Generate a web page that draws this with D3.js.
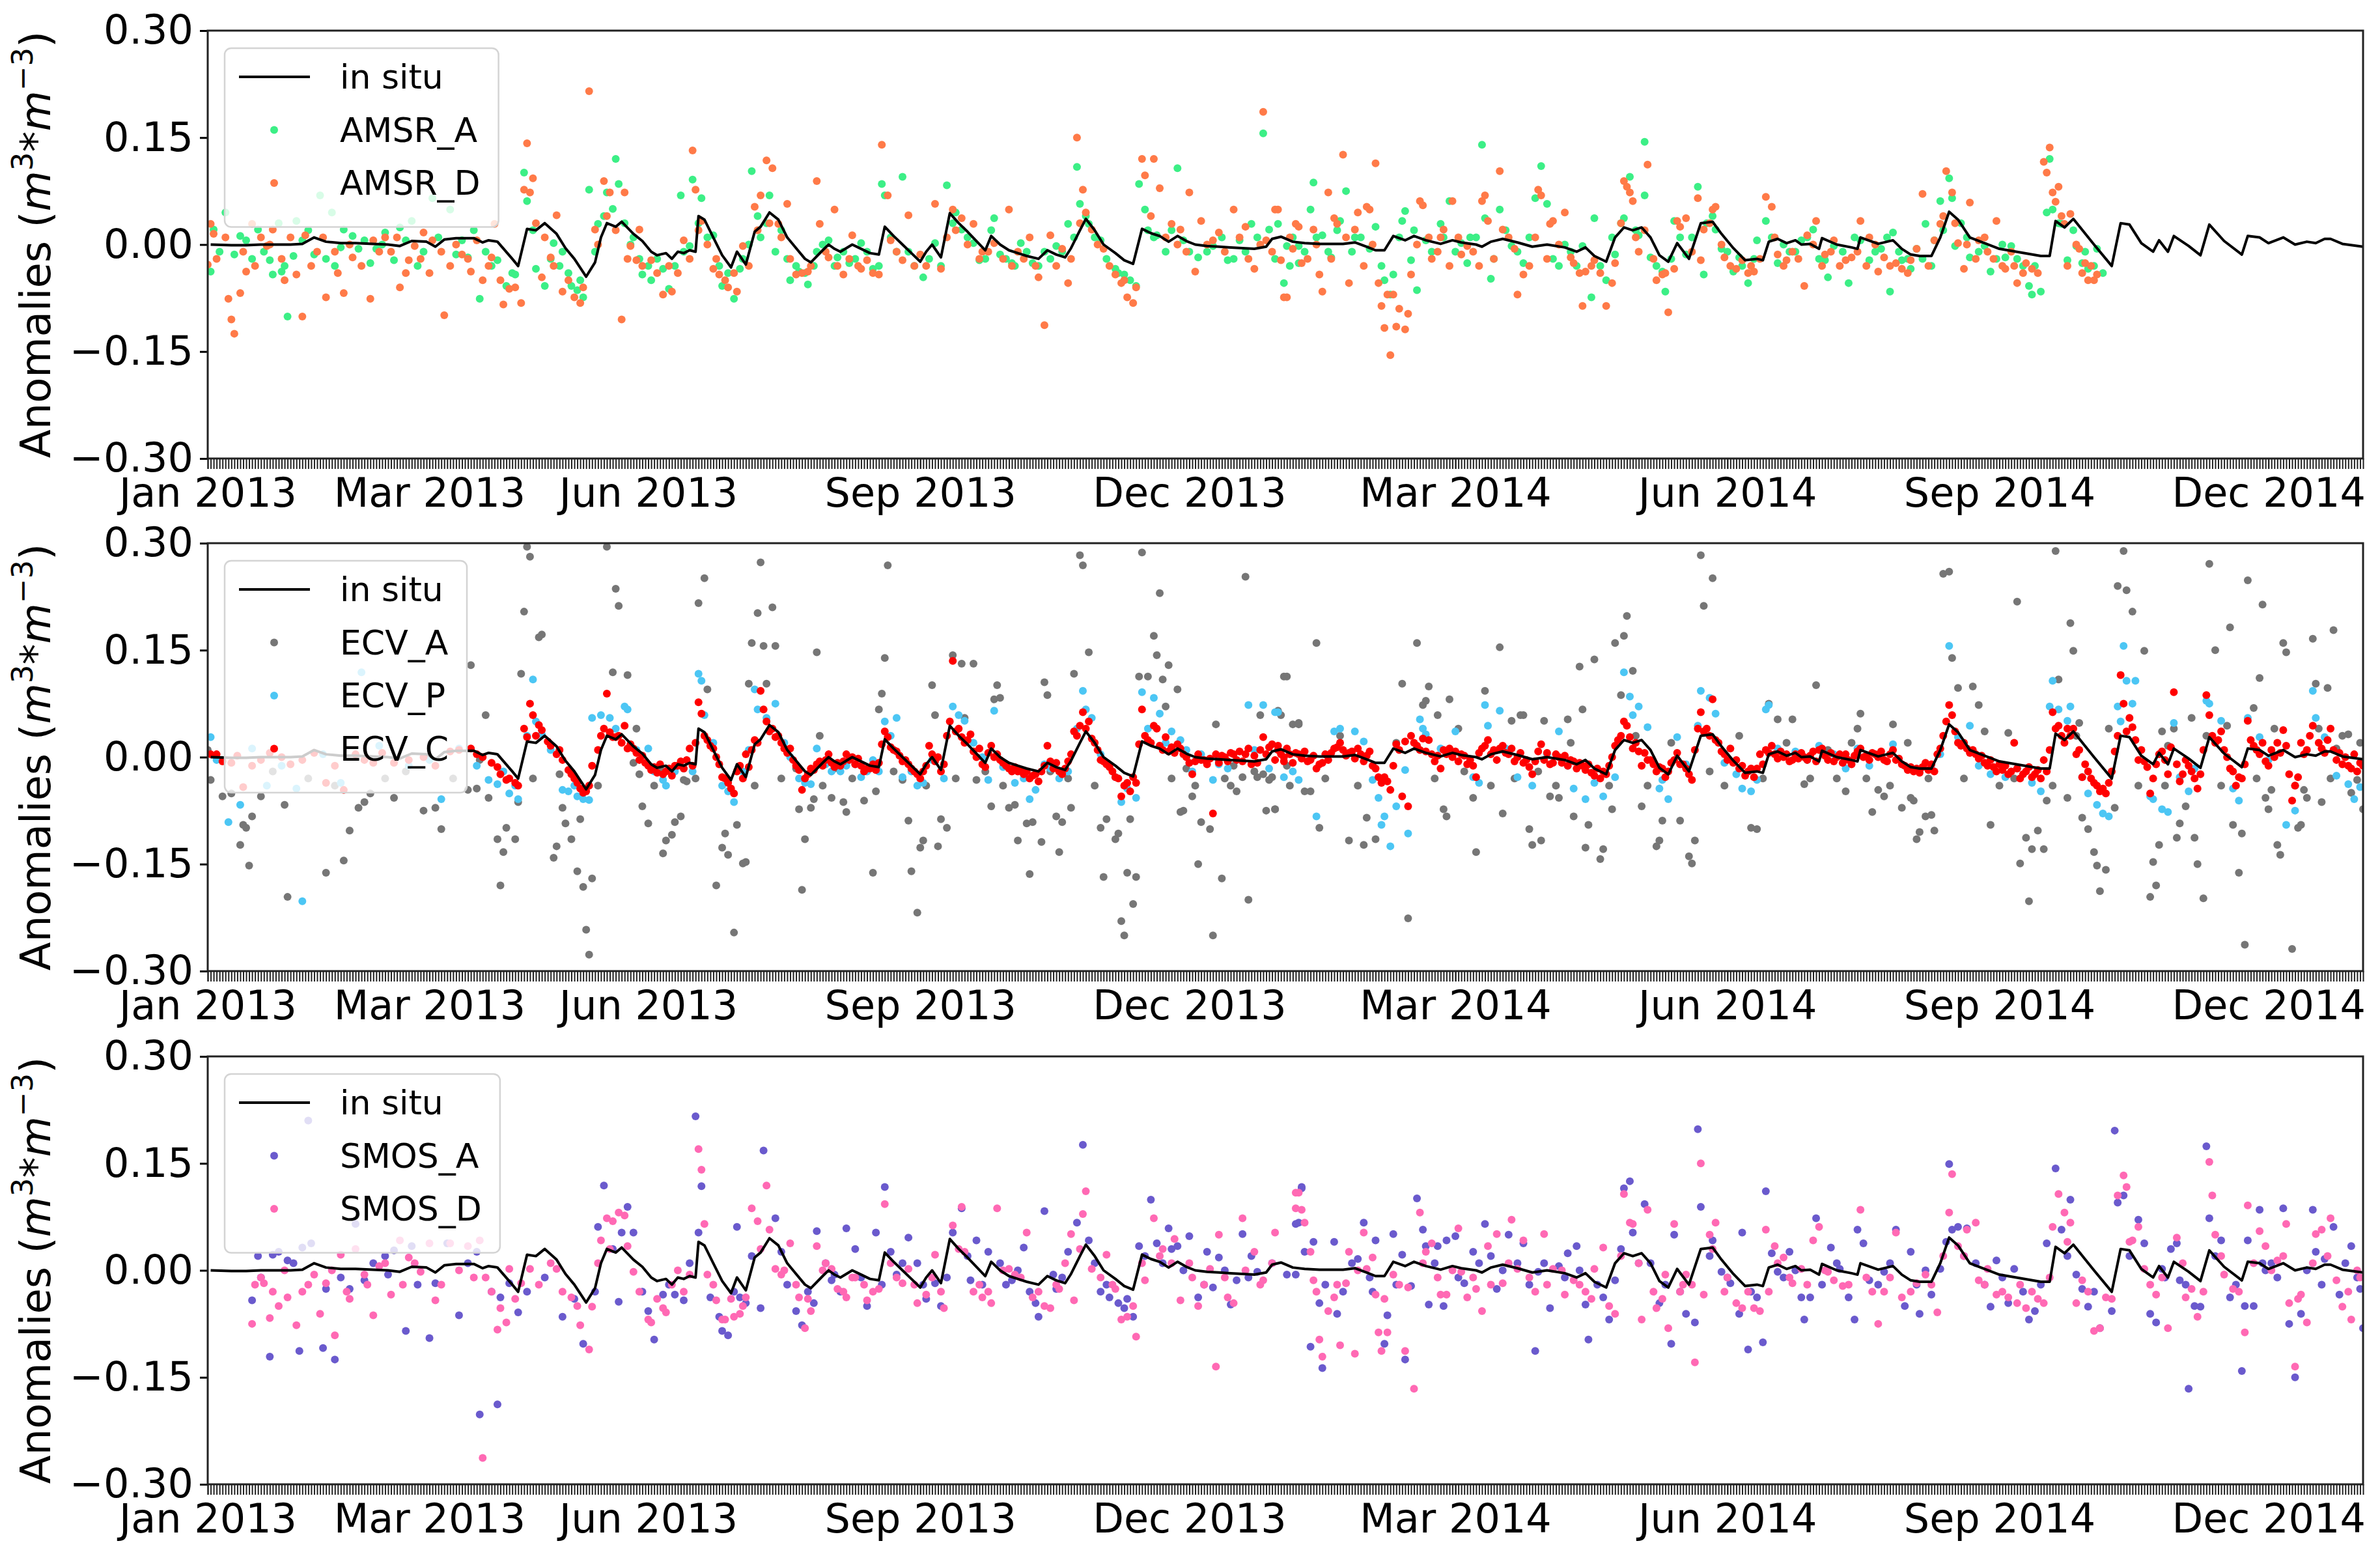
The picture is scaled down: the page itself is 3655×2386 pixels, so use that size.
<!DOCTYPE html>
<html><head><meta charset="utf-8">
<script src="https://cdn.jsdelivr.net/npm/d3@7"></script>
<style>body{margin:0;background:#fff}svg text{font-family:"DejaVu Sans",sans-serif;fill:#000}</style>
</head><body>
<svg id="c" width="3655" height="2386"></svg>
<script>
// ---------------- DATA (day offset from 2013-01-01, anomaly m3/m3) ----------------
const insitu=[[3,0],[10,-0.001],[15,-0.001],[20,0],[25,0],[30,0],[34,0.001],[38,0.010],[42,0.004],[47,0.002],[52,0.002],[58,0.001],[63,0],[67,-0.002],[71,0.005],[76,0.004],[79,-0.003],[82,0.007],[86,0.009],[92,0.009],[95,0.003],[97,0.006],[100,0.004],[105,-0.020],[107,-0.030],[110,0.022],[113,0.020],[116,0.030],[120,0.015],[123,-0.005],[126,-0.020],[130,-0.045],[133,-0.025],[135,0.010],[137,0.030],[140,0.025],[142,0.032],[146,0.015],[149,0.005],[152,-0.010],[154,-0.015],[157,-0.012],[159,-0.020],[161,-0.010],[163,-0.012],[165,-0.008],[167,-0.010],[168,0.040],[170,0.035],[173,0.010],[176,-0.015],[179,-0.032],[181,-0.010],[184,-0.028],[187,0.018],[189,0.025],[192,0.045],[195,0.035],[198,0.010],[201,-0.005],[204,-0.020],[206,-0.025],[210,-0.008],[212,0],[214,-0.006],[216,-0.010],[220,0],[222,-0.004],[226,-0.012],[229,-0.014],[231,0.025],[234,0.012],[237,0],[240,-0.012],[243,-0.024],[245,-0.010],[247,0],[250,-0.018],[253,0.044],[256,0.030],[259,0.018],[262,0.005],[265,-0.008],[267,0.012],[270,0],[273,-0.008],[276,-0.012],[279,-0.016],[283,-0.020],[286,-0.008],[289,-0.014],[292,-0.018],[294,-0.005],[297,0.020],[299,0.036],[302,0.020],[305,0],[309,-0.012],[312,-0.022],[315,-0.027],[318,0.022],[321,0.016],[324,0.012],[327,0.004],[330,0.012],[333,0.005],[336,0],[340,-0.002],[344,-0.003],[348,-0.004],[352,-0.005],[356,-0.006],[360,-0.003],[362,0.008],[365,0.011],[369,0.004],[373,0.002],[378,0.001],[386,0.001],[390,0.003],[394,-0.003],[397,-0.008],[400,-0.008],[403,0.012],[407,0.006],[410,0.012],[414,0.006],[419,0.001],[423,0.006],[426,0.003],[431,0],[433,-0.003],[436,0.004],[440,0.008],[445,0.003],[450,-0.003],[455,0],[461,-0.004],[465,-0.010],[468,-0.004],[471,-0.016],[475,-0.024],[478,0.010],[481,0.024],[484,0.020],[487,0.024],[490,0.010],[493,-0.015],[496,-0.024],[499,0.002],[503,-0.020],[507,0.030],[511,0.032],[514,0.015],[518,-0.005],[522,-0.022],[526,-0.020],[528,-0.022],[530,0.004],[533,0.008],[536,0.002],[539,0.006],[541,0],[544,0.001],[547,-0.006],[548,0.009],[553,0],[558,-0.004],[560,-0.006],[561,0.010],[567,0.001],[572,0.006],[575,-0.006],[578,-0.014],[581,-0.016],[585,-0.016],[588,0.010],[591,0.046],[594,0.035],[598,0.010],[603,0.002],[608,-0.006],[615,-0.011],[622,-0.016],[625,-0.016],[627,0.033],[630,0.024],[633,0.036],[640,0],[646,-0.030],[649,0.030],[652,0.028],[656,0.002],[660,-0.010],[662,0.006],[665,-0.010],[667,0.012],[672,-0.002],[676,-0.015],[679,0.028],[684,0.005],[690,-0.014],[692,0.012],[696,0.010],[699,0.002],[704,0.010],[708,0],[712,0.004],[715,0.002],[718,0.008],[720,0.008],[724,0.001],[731,-0.003]];

const amsrA=[[4,0.021],[8,0.045],[11,-0.014],[3,-0.038],[15,0.006],[19,0.021],[21,-0.010],[23,-0.022],[24,-0.042],[27,-0.038],[28,-0.030],[29,-0.101],[32,0.033],[34,0.006],[38,-0.014],[40,0.069],[44,0.045],[45,-0.030],[48,0.021],[53,-0.006],[55,0.006],[59,-0.006],[62,0.017],[65,-0.022],[69,0.006],[71,0.033],[75,-0.010],[78,0.065],[84,0.049],[88,0.006],[90,-0.018],[94,-0.076],[96,-0.010],[100,-0.022],[103,-0.058],[106,-0.042],[109,0.101],[110,0.061],[113,-0.034],[116,-0.058],[119,0.002],[122,-0.010],[125,-0.058],[127,-0.064],[129,-0.074],[131,0.077],[134,0.029],[137,0.073],[140,0.120],[141,0.085],[146,0.010],[149,-0.042],[152,-0.050],[156,-0.034],[158,-0.062],[162,0.069],[165,-0.002],[166,0.091],[169,0.065],[173,0.013],[176,-0.058],[180,-0.076],[182,-0.034],[186,0.103],[189,0.010],[192,0.069],[194,-0.010],[199,-0.050],[202,-0.038],[205,-0.056],[208,-0.010],[212,0.006],[215,-0.018],[219,-0.026],[223,0.002],[227,-0.034],[230,0.085],[231,0.069],[237,0.095],[239,-0.010],[244,-0.046],[248,0.002],[252,0.083],[255,0.045],[257,0.021],[261,0.002],[263,-0.022],[268,0.037],[270,-0.014],[274,-0.026],[277,0.002],[281,-0.026],[285,-0.010],[289,-0.002],[293,0.029],[296,0.109],[297,0.057],[300,0.029],[304,0.006],[309,-0.034],[312,-0.042],[316,-0.058],[317,0.085],[319,0.049],[323,0.013],[326,-0.010],[330,0.107],[332,0.006],[337,-0.018],[342,-0.002],[347,-0.022],[351,0.006],[355,0.029],[359,0.156],[361,0.021],[366,-0.054],[368,-0.030],[371,-0.002],
[364,0.029],[367,-0.002],[371,-0.026],[375,0.049],[376,0.087],[379,0.013],[382,-0.018],[385,0.033],[387,0.075],[390,0.010],[395,-0.006],[397,0.025],[400,-0.050],[402,-0.070],[403,-0.042],[406,0.033],[407,0.047],[409,-0.022],[411,-0.064],[414,0.006],[419,0.029],[422,0.061],[426,0.002],[428,-0.026],[431,0.010],[433,0.140],[434,0.037],[436,-0.048],[439,0.049],[443,-0.002],[447,-0.026],[451,0.065],[453,0.110],[455,0.057],[459,-0.030],[463,-0.010],[467,-0.002],[470,-0.074],[471,0.037],[475,-0.050],[478,-0.014],[481,0.037],[483,0.095],[486,0.013],[488,0.144],[488,0.069],[490,-0.018],[494,-0.038],[495,-0.066],[498,0.033],[500,0.010],[502,-0.014],[506,0.081],[508,-0.042],[512,0.021],[514,-0.006],[518,-0.038],[520,-0.018],[523,-0.054],[526,0.006],[529,0.033],[533,-0.026],[537,-0.010],[541,0.006],[545,0.021],[549,-0.022],[550,-0.046],[552,-0.002],[557,-0.054],[561,0.006],[564,-0.022],[568,-0.006],[571,-0.066],[572,0.017],[575,-0.022],[578,-0.034],[580,-0.006],[583,0.029],[586,0.006],[588,0.061],[591,0.093],[592,0.065],[593,-0.002],[598,-0.018],[603,-0.002],[605,-0.038],[610,-0.018],[612,-0.002],[616,-0.030],[618,-0.058],[619,-0.070],[622,-0.066],[624,0.045],[625,0.120],[626,0.049],[629,0.029],[631,-0.022],[634,-0.002],[636,-0.026],[638,-0.034],[641,-0.006]];
const amsrA2=[[6,-0.010],[13,0.012],[17,-0.020],[26,0.030],[31,-0.016],[36,0.020],[42,-0.020],[47,-0.004],[51,0.012],[57,-0.026],[61,0],[67,0.024],[73,-0.030],[80,0.010],[86,-0.014],[92,0.020],[98,-0.030],[105,-0.040],[112,0.020],[118,-0.020],[121,-0.030],[124,-0.040],[128,-0.050],[133,-0.010],[136,0.040],[139,0.050],[143,0.030],[145,0],[148,-0.020],[151,-0.030],[154,-0.020],[160,-0.030],[163,-0.010],[168,0.030],[171,0.010],[175,-0.030],[178,-0.040],[183,-0.020],[185,0],[188,0.040],[191,0.030],[196,0.020],[198,-0.020],[201,-0.030],[204,-0.040],[207,-0.030],[210,0],[214,-0.030],[217,-0.010],[221,-0.020],[225,-0.010],[229,-0.030],[233,0.010],[235,-0.010],[241,-0.030],[246,-0.020],[250,-0.030],[254,0.030],[259,0.010],[265,-0.020],[267,0.020],[272,-0.020],[275,-0.030],[279,-0.010],[283,-0.030],[287,-0.020],[291,-0.010],[295,0.010],[299,0.040],[302,0.010],[306,-0.020],[310,-0.040],[314,-0.050],[320,0.020],[322,0.010],[328,0.020],[334,-0.010],[340,-0.010],[345,0.010],[349,-0.020],[353,-0.010],[357,0.010],[363,-0.020],[369,0.010],[373,-0.010],[377,0.010],[381,-0.010],[384,0.020],[389,-0.010],[392,0.010],[399,-0.030],[405,0.010],[410,0.020],[416,-0.010],[420,0.010],[424,-0.010],[429,0.010],[437,-0.020],[441,0.020],[445,-0.010],[449,0.010],[457,-0.020],[461,0],[465,-0.030],[473,-0.030],[477,0.010],[480,0.030],[485,0.020],[492,-0.030],[497,-0.020],[504,0.010],[509,0.030],[511,0.040],[516,-0.010],[521,-0.030],[525,-0.020],[531,0.010],[535,0],[539,-0.010],[543,0.010],[547,-0.020],[555,-0.010],[559,0.010],[566,-0.010],[570,0.010],[574,-0.010],[577,-0.020],[582,-0.020],[585,-0.030],[589,0.020],[595,0.030],[597,0.010],[601,-0.010],[607,-0.020],[609,0],[614,-0.020],[620,-0.030],[628,0.030],[633,0.020],[637,-0.010],[640,-0.030],[643,-0.040]];

const amsrD=[[2,-0.028],[3,0.029],[4,0.015],[10,-0.105],[9,-0.076],[11,-0.125],[13,-0.068],[15,-0.038],[17,0.029],[20,0.010],[22,-0.002],[24,0.021],[28,-0.050],[32,-0.042],[34,-0.101],[35,0.013],[39,-0.010],[42,-0.074],[45,-0.010],[48,-0.068],[51,-0.018],[57,-0.076],[58,0.006],[62,0.010],[64,-0.010],[67,-0.060],[70,-0.022],[72,-0.002],[75,0.017],[78,0.006],[82,-0.099],[84,-0.030],[88,-0.014],[91,-0.038],[93,0.006],[95,-0.050],[98,-0.018],[99,0.029],[102,-0.084],[104,-0.062],[108,-0.082],[109,0.077],[110,0.142],[112,0.093],[111,0.073],[115,-0.046],[118,-0.018],[120,0.041],[122,-0.066],[126,-0.074],[128,-0.082],[131,0.215],[133,0.021],[136,0.089],[138,0.073],[142,-0.105],[143,0.073],[145,-0.002],[147,-0.022],[148,0.021],[152,-0.022],[156,-0.070],[159,-0.066],[163,0.006],[166,0.132],[167,0.077],[169,0.033],[173,-0.034],[175,-0.042],[177,-0.050],[181,-0.066],[183,-0.002],[187,0.053],[189,0.069],[191,0.118],[193,0.107],[195,0.029],[198,0.057],[201,-0.042],[205,-0.038],[208,0.089],[209,0.029],[212,-0.018],[214,0.049],[217,-0.042],[220,0.013],[223,-0.034],[225,-0.022],[229,-0.042],[230,0.140],[232,0.069],[233,0.006],[237,-0.022],[239,0.041],[243,-0.014],[248,0.057],[250,-0.034],[254,0.049],[257,0.037],[261,0.029],[264,-0.010],[268,0.002],[273,0.049],[276,-0.010],[280,0.010],[283,-0.046],[285,-0.113],[287,0.013],[291,-0.006],[293,-0.054],[296,0.150],[298,0.077],[299,0.045],[301,0.021],[305,-0.006],[309,-0.042],[311,-0.054],[313,-0.074],[315,-0.082],[318,0.120],[319,0.097],[322,0.120],[324,0.079],[328,0.029],[331,0.021],[334,0.073],[336,-0.038],[338,0.033],[342,0.006],[344,0.017],[349,0.049],[353,0.025],[356,-0.034],[359,0.186],[360,0.006],[363,0.049],[367,-0.074],[371,0.025],
[364,0.049],[365,-0.022],[366,-0.074],[369,-0.006],[370,0.029],[372,-0.026],[376,0.021],[378,-0.042],[379,-0.066],[381,0.073],[383,0.037],[384,0.029],[386,0.126],[388,-0.054],[390,0.021],[391,0.045],[394,0.053],[395,0.049],[397,0.114],[398,-0.054],[399,-0.086],[400,-0.117],[402,-0.155],[403,-0.070],[404,-0.115],[407,-0.119],[408,-0.097],[409,-0.042],[412,0.061],[413,0.055],[415,0.010],[418,-0.010],[420,0.021],[423,0.061],[426,-0.014],[428,-0.002],[432,-0.030],[433,0.061],[434,0.069],[435,0.033],[439,0.103],[440,0.021],[444,-0.006],[445,-0.070],[447,-0.042],[452,0.077],[453,0.069],[456,0.029],[457,0.033],[461,0.045],[463,-0.018],[464,-0.026],[467,-0.086],[468,-0.038],[471,-0.022],[475,-0.086],[477,-0.054],[478,-0.026],[481,0.089],[482,0.081],[483,0.073],[484,0.061],[486,-0.010],[489,0.112],[492,-0.050],[494,-0.042],[496,-0.095],[498,-0.034],[499,0.033],[500,0.025],[502,0.037],[506,0.065],[507,-0.022],[508,0.021],[511,0.049],[512,0.053],[515,-0.018],[519,-0.034],[521,-0.022],[524,-0.030],[525,-0.038],[529,0.067],[531,0.053],[533,-0.014],[536,-0.022],[538,-0.010],[542,-0.058],[543,0.013],[546,0.033],[549,-0.014],[552,0.006],[556,-0.022],[558,-0.018],[561,0.033],[564,0.010],[567,-0.038],[569,-0.018],[573,-0.026],[575,-0.034],[578,-0.022],[580,-0.006],[582,0.071],[586,0.006],[588,0.029],[590,0.103],[592,0.073],[594,0.002],[596,-0.034],[598,0.059],[601,0.006],[604,-0.010],[607,0.033],[610,-0.034],[613,-0.030],[614,-0.054],[617,-0.026],[619,-0.034],[623,0.116],[624,0.101],[625,0.136],[626,0.073],[628,0.081],[630,0.029],[631,-0.030],[632,0.043],[635,-0.006],[637,-0.026],[638,-0.050],[641,-0.042]];
const amsrD2=[[5,-0.020],[8,0.010],[14,-0.010],[18,-0.030],[23,0],[27,-0.020],[30,0.010],[37,-0.030],[41,0.010],[46,-0.040],[50,0],[54,-0.030],[60,-0.010],[66,0.010],[69,-0.040],[74,-0.020],[77,-0.040],[81,-0.010],[86,0],[90,-0.020],[97,-0.030],[101,-0.050],[106,-0.060],[113,0.030],[116,0.010],[119,-0.030],[124,-0.050],[129,-0.060],[134,0],[137,0.040],[140,0.020],[144,-0.020],[149,-0.030],[154,-0.040],[158,-0.030],[161,-0.040],[165,-0.020],[168,0.020],[171,0],[174,-0.020],[178,-0.060],[180,-0.040],[185,-0.030],[188,0.020],[192,0.030],[196,0.010],[199,-0.020],[203,-0.040],[206,-0.030],[211,-0.010],[215,-0.030],[219,-0.020],[222,-0.030],[227,-0.040],[235,-0.010],[241,-0.030],[245,-0.030],[252,0.010],[255,0.020],[259,0],[263,-0.020],[266,-0.010],[271,-0.020],[274,-0.030],[278,-0.020],[282,-0.030],[289,-0.030],[294,-0.020],[297,0.030],[303,0],[307,-0.030],[312,-0.050],[316,-0.060],[321,0.040],[326,0.010],[330,0],[333,-0.010],[340,0],[346,-0.010],[351,0.010],[354,-0.020],[358,0],[362,-0.010],[368,0.010],[374,-0.020],[377,0],[382,-0.020],[387,0.010],[393,-0.030],[396,0],[401,-0.070],[405,-0.090],[411,0],[416,-0.020],[419,0.010],[422,-0.030],[425,0.010],[430,-0.010],[437,-0.020],[442,0.010],[449,-0.030],[451,0.010],[455,-0.020],[459,0],[466,-0.040],[470,-0.030],[473,-0.040],[480,0.030],[485,0.010],[488,0.020],[491,-0.020],[495,-0.040],[504,-0.010],[510,0.030],[514,0],[517,-0.030],[523,-0.040],[527,-0.020],[532,0.010],[535,-0.030],[540,-0.020],[545,0],[548,-0.030],[551,-0.010],[554,-0.030],[560,-0.010],[563,-0.030],[566,0],[571,-0.030],[577,-0.040],[584,-0.030],[589,0.040],[593,0.030],[597,0],[600,-0.020],[603,0.010],[606,-0.020],[609,-0.030],[612,-0.010],[616,-0.040],[621,-0.040],[627,0.060],[629,0.040],[634,0],[636,-0.040],[639,-0.030],[640,-0.050]];

const ecvA=[[110,0.295],[111,0.281],[137,0.295],[109,0.204],[114,0.168],[115,0.172],[140,0.236],[141,0.212],[170,0.251],[168,0.216],[189,0.273],[188,0.202],[193,0.210],[186,0.160],[190,0.156],[194,0.156],[208,0.147],[232,0.269],[231,0.139],[254,0.143],[257,0.131],[261,0.131],[297,0.283],[298,0.269],[318,0.287],[324,0.230],[322,0.170],[323,0.143],[327,0.129],[353,0.253],[300,0.147],[91,0.129],[108,0.117],[139,0.119],[144,0.115],[171,0.095],[185,0.103],[191,0.103],[247,0.101],[269,0.101],[285,0.105],[295,0.117],[317,0.113],[320,0.113],[325,0.109],[330,0.095],[366,0.113],[230,0.089],[268,0.081],[270,0.083],[286,0.087],[229,0.067],[248,0.059],[258,0.055],[326,0.071],[358,0.059],[365,0.059],[343,0.046],[371,0.048],[96,0.059],[147,0.040],[209,0.030],[344,-0.004],[352,-0.028],[359,-0.024],[367,-0.012],[361,-0.032],
[3,-0.032],[7,-0.055],[10,-0.051],[14,-0.095],[15,-0.099],[13,-0.123],[16,-0.152],[17,-0.083],[20,-0.055],[28,-0.067],[29,-0.196],[42,-0.162],[48,-0.145],[50,-0.103],[57,-0.051],[55,-0.063],[53,-0.071],[65,-0.057],[75,-0.075],[79,-0.071],[81,-0.101],[90,-0.046],[93,-0.044],[97,-0.057],[101,-0.180],[100,-0.115],[103,-0.099],[102,-0.133],[106,-0.115],[107,-0.063],[119,-0.141],[120,-0.125],[122,-0.071],[123,-0.093],[125,-0.115],[127,-0.160],[128,-0.087],[130,-0.242],[131,-0.277],[132,-0.170],[129,-0.182],[149,-0.069],[151,-0.093],[156,-0.135],[157,-0.117],[159,-0.109],[160,-0.091],[162,-0.083],[164,-0.034],[174,-0.180],[176,-0.127],[177,-0.107],[178,-0.137],[180,-0.246],[181,-0.095],[183,-0.149],[184,-0.147],[203,-0.186],[202,-0.073],[204,-0.115],[206,-0.071],[207,-0.059],[213,-0.057],[218,-0.077],[217,-0.063],[224,-0.061],[227,-0.162],[228,-0.048],[239,-0.089],[240,-0.160],[242,-0.218],[243,-0.127],[244,-0.117],[249,-0.125],[250,-0.087],[252,-0.099],[267,-0.069],[273,-0.071],[275,-0.067],[276,-0.117],[279,-0.093],[280,-0.164],[281,-0.091],[284,-0.119],[290,-0.133],[289,-0.083],[291,-0.091],[294,-0.071],[304,-0.099],[305,-0.168],[306,-0.087],[310,-0.107],[311,-0.230],[312,-0.250],[313,-0.162],[315,-0.206],[316,-0.168],[314,-0.087],[309,-0.115],[331,-0.077],[332,-0.075],[335,-0.055],[337,-0.150],[338,-0.091],[341,-0.101],[342,-0.250],[345,-0.170],[348,-0.040],[350,-0.048],[354,-0.200],[360,-0.075],[363,-0.073],
[94,-0.004],[121,-0.024],[146,-0.008],[148,-0.024],[155,-0.016],[163,-0.032],[201,-0.016],[214,-0.016],[237,-0.032],[262,-0.032],[278,-0.024],[333,-0.016],[349,-0.012],[357,-0.028],[362,-0.028],
[367,0.113],[364,0.065],[369,0.046],[371,0.046],[377,0.160],[363,-0.073],[373,-0.048],[375,-0.048],[378,-0.099],[388,-0.117],[393,-0.123],[394,-0.085],[397,-0.115],[406,0.103],[408,-0.226],[411,0.160],[413,0.073],[414,0.079],[415,0.099],[418,0.059],[420,-0.073],[421,-0.083],[422,0.081],[425,0.040],[431,-0.133],[430,-0.057],[434,0.093],[439,0.154],[440,-0.079],[443,0.051],[446,0.059],[447,0.059],[449,-0.101],[450,-0.123],[453,-0.117],[454,0.051],[456,-0.055],[459,-0.057],[462,0.053],[464,-0.083],[466,0.127],[467,0.067],[468,-0.127],[469,-0.095],[471,0.137],[474,-0.129],[473,-0.143],[477,-0.073],[478,0.160],[481,0.170],[482,0.198],[484,0.121],[480,0.087],[487,-0.069],[492,-0.125],[493,-0.117],[494,-0.089],[500,-0.089],[504,-0.149],[503,-0.139],[505,-0.117],[507,0.283],[511,0.251],[508,0.212],[524,-0.099],[526,-0.101],[530,0.075],[533,0.053],[538,0.053],[542,-0.038],[546,0.101],[556,-0.048],[560,0.040],[561,0.061],[565,-0.077],[567,-0.046],[569,-0.055],[572,0.046],[575,-0.071],[578,-0.057],[579,-0.061],[580,-0.115],[581,-0.105],[583,-0.083],[586,-0.103],[585,-0.081],[589,0.257],[591,0.260],[592,0.139],[594,0.097],[599,0.099],[601,0.073],[603,0.036],[605,-0.095],[611,0.034],[614,0.218],[615,-0.149],[617,-0.113],[618,-0.202],[619,-0.129],[621,-0.103],[623,-0.129],[624,-0.061],[627,0.289],[628,0.109],[631,-0.057],[632,0.188],[633,0.149],[635,0.048],[636,-0.085],[638,-0.101],[640,-0.133],[641,-0.152],[642,-0.188],[644,-0.158],[647,-0.071],[648,0.240],[650,0.289],[651,0.234],[653,0.204],[657,0.149],[659,-0.196],[660,-0.147],[661,-0.180],[662,-0.123],[663,0.036],[665,0.016],[667,0.040],[668,-0.113],[669,-0.093],[671,-0.069],[673,0.055],[674,-0.113],[675,-0.150],[677,-0.198],[679,0.271],[681,0.150],[685,0.044],[686,0.182],[687,-0.095],[689,-0.162],[690,-0.107],[691,-0.263],[692,0.248],[694,0.069],[696,0.111],[697,0.214],[698,-0.057],[699,-0.073],[700,-0.046],[702,-0.123],[703,-0.137],[704,0.160],[705,0.147],[707,-0.269],[709,-0.099],[710,-0.095],[711,-0.046],[712,-0.057],[714,0.166],[715,0.103],[717,-0.063],[719,0.097],[721,0.178],[722,0.012],[726,0.032],[729,-0.032],[731,-0.073]];
const ecvA2=[[2,0.010],[24,-0.020],[36,-0.030],[45,-0.040],[62,-0.030],[69,-0.020],[85,-0.030],[112,-0.030],[134,-0.040],[153,-0.040],[167,-0.030],[187,-0.040],[196,-0.030],[210,-0.040],[220,-0.030],[234,-0.020],[245,-0.040],[255,-0.030],[265,-0.020],[271,-0.040],[287,-0.020],[293,-0.030],[302,-0.040],[328,-0.030],[336,-0.040],[346,-0.030],[356,-0.020],[368,-0.040],[380,-0.030],[385,0.030],[391,-0.040],[399,-0.030],[404,0.020],[417,-0.030],[427,-0.020],[436,-0.040],[444,-0.030],[452,-0.020],[458,-0.040],[463,0.020],[476,-0.040],[485,0.030],[489,-0.040],[497,0.020],[510,-0.020],[515,-0.040],[520,0.030],[528,-0.030],[536,0.020],[544,-0.030],[550,0.010],[553,-0.030],[558,0.020],[563,-0.030],[571,-0.040],[577,0.020],[584,-0.030],[596,-0.030],[608,-0.040],[613,-0.030],[626,-0.040],[634,0.030],[645,0.040],[655,-0.040],[664,-0.040],[678,0.030],[683,-0.040],[695,-0.030],[701,0.040],[708,-0.040],[716,0.040],[720,-0.030],[724,0.030],[727,-0.050],[730,0.020]];

const ecvP=[[9,-0.091],[13,-0.067],[22,-0.040],[32,-0.044],[34,-0.202],[47,-0.036],[54,0.119],[81,-0.059],[97,-0.032],[100,-0.038],[104,-0.051],[107,-0.059],[112,0.109],[113,0.050],[115,0.032],[122,-0.046],[124,-0.048],[127,-0.055],[129,-0.059],[132,0.055],[135,0.059],[138,0.055],[143,0.071],[144,0.067],[151,0.012],[156,-0.032],[157,-0.040],[168,0.117],[169,0.107],[170,0.059],[176,-0.040],[178,-0.048],[180,-0.063],[187,0.095],[188,0.067],[191,0.055],[194,0.075],[199,0],[204,-0.036],[206,-0.038],[208,0.012],[213,-0.020],[218,-0.012],[223,-0.028],[227,-0.004],[231,0.050],[235,0.055],[237,-0.028],[244,-0.036],[254,0.071],[256,0.059],[258,0.051],[264,0],[266,-0.032],[268,0.065],[275,-0.036],[280,-0.059],[282,-0.046],[287,-0.016],[298,0.093],[299,0.067],[301,0.055],[309,-0.028],[311,-0.063],[316,-0.057],[318,0.091],[322,0.083],[324,0.061],[328,0.036],[331,0.024],[335,-0.020],[342,-0.032],[347,-0.016],[354,0.073],[359,0.073],[361,-0.016],[363,0.063],[366,-0.028],[369,-0.020],
[3,0.028],[5,-0.004],[17,0.012],[27,-0.012],[41,0.004],[60,0.016],[70,-0.012],[77,-0.004],[87,0.012],[93,-0.012],[102,-0.020],[106,-0.040],[110,0.030],[118,0.010],[126,-0.040],[131,-0.060],[140,0.040],[147,0.010],[153,-0.020],[160,-0.020],[163,-0.016],[166,-0.020],[173,0.020],[183,-0.020],[185,0.010],[197,0.020],[202,-0.030],[211,-0.010],[216,-0.020],[221,-0.010],[225,-0.020],[229,-0.020],[233,0.030],[240,-0.020],[242,-0.040],[247,-0.004],[251,-0.030],[261,0.020],[271,-0.014],[278,-0.030],[285,-0.010],[290,-0.030],[293,-0.020],[296,0.040],[304,0.004],[313,-0.044],[320,0.040],[326,0.020],[333,0.010],[338,0.004],[344,-0.010],[350,-0.004],[356,0.010],
[364,0.063],[371,-0.032],[377,-0.083],[383,0.036],[385,0.040],[390,0.036],[393,0.022],[396,-0.032],[398,-0.057],[399,-0.095],[400,-0.083],[402,-0.125],[404,-0.069],[408,-0.107],[407,-0.018],[412,0.053],[413,0.040],[414,0.032],[419,0.012],[424,0.036],[430,-0.028],[432,-0.036],[434,0.073],[435,0.044],[439,0.065],[441,0.012],[445,-0.028],[450,-0.040],[455,0.004],[459,0.036],[462,-0.012],[464,-0.044],[468,-0.059],[471,-0.036],[474,-0.055],[478,-0.028],[481,0.119],[483,0.085],[484,0.059],[486,0.071],[489,0.042],[493,-0.044],[494,-0.032],[496,-0.059],[499,0.028],[502,-0.010],[506,0.044],[507,0.093],[510,0.083],[512,0.061],[515,-0.008],[519,-0.024],[521,-0.044],[524,-0.048],[526,-0.032],[529,0.067],[530,0.073],[533,0.012],[539,0.008],[543,-0.004],[547,0.016],[552,0.004],[556,-0.016],[560,0.012],[564,-0.012],[572,0.018],[576,-0.012],[581,-0.020],[585,-0.016],[588,0.004],[591,0.156],[594,0.028],[598,0.044],[601,-0.012],[605,-0.024],[610,-0.028],[614,-0.016],[619,-0.036],[622,-0.048],[625,0.071],[626,0.107],[628,0.067],[631,0.051],[632,0.071],[636,-0.028],[638,-0.051],[641,-0.067],[643,-0.079],[645,-0.083],[648,0.071],[649,0.050],[650,0.156],[651,0.107],[653,0.075],[654,0.107],[659,-0.055],[660,-0.059],[663,-0.073],[665,-0.077],[667,0.048],[669,-0.028],[672,-0.048],[674,-0.016],[678,0.079],[679,0.075],[683,0.051],[687,-0.044],[689,-0.061],[692,0.055],[696,0.028],[699,-0.004],[705,-0.095],[708,-0.075],[714,0.093],[715,0.055],[718,0.028],[722,-0.026],[726,-0.038],[728,-0.059],[730,-0.042]];

const ecvC=[[14,-0.042],[42,-0.036],[48,-0.046],[5,0.004],[1,0.008],[10,-0.008],[17,-0.012],[27,0],[34,-0.004],[55,-0.004],[65,-0.008],[75,0],[84,0.008],[91,0.012],[95,0],[98,-0.008],[101,-0.024],[103,-0.032],[106,-0.036],[109,0.040],[111,0.075],[112,0.059],[115,0.038],[118,0.016],[122,-0.004],[125,-0.024],[128,-0.044],[132,-0.012],[137,0.089],[139,0.028],[143,0.044],[146,0.012],[151,-0.012],[156,-0.024],[160,-0.012],[165,0.012],[168,0.077],[169,0.061],[173,0.012],[176,-0.028],[180,-0.051],[184,0.004],[189,0.093],[190,0.067],[192,0.036],[194,0.028],[199,0.012],[203,-0.046],[206,-0.016],[211,-0.004],[215,-0.008],[220,0],[225,-0.016],[231,0.036],[235,0.008],[238,-0.004],[242,-0.024],[246,0.016],[249,0],[254,0.135],[256,0.040],[260,0.032],[263,0.012],[268,0],[273,-0.016],[276,-0.020],[282,-0.024],[286,0.016],[289,-0.008],[295,0.036],[298,0.063],[300,0.050],[304,-0.004],[309,-0.028],[311,-0.055],[313,-0.036],[315,-0.028],[318,0.067],[322,0.044],[323,0.040],[326,0.028],[331,0.012],[335,-0.024],[338,-0.004],[342,-0.079],[346,0],[349,0.004],[354,0.012],[359,0.028],[363,-0.004],[368,0.004],
[3,0.004],[7,-0.006],[12,0.002],[20,-0.004],[23,0.006],[30,-0.010],[38,0.006],[45,-0.012],[52,0.004],[58,-0.008],[61,0.006],[70,-0.004],[79,-0.012],[87,0.010],[93,0.004],[100,-0.014],[104,-0.030],[107,-0.040],[110,0.028],[113,0.030],[114,0.045],[117,0.022],[120,0.004],[121,0.010],[124,-0.018],[126,-0.030],[127,-0.036],[129,-0.050],[130,-0.048],[131,-0.040],[134,0.010],[135,0.030],[136,0.040],[138,0.035],[140,0.028],[141,0.030],[142,0.020],[144,0.012],[145,0.018],[147,0.006],[148,-0.004],[149,0.002],[150,-0.008],[152,-0.018],[153,-0.014],[154,-0.022],[155,-0.010],[157,-0.020],[158,-0.016],[159,-0.026],[161,-0.012],[162,-0.006],[163,-0.016],[164,-0.004],[166,-0.012],[167,0.020],[170,0.030],[171,0.024],[172,0.016],[174,0],[175,-0.010],[177,-0.030],[178,-0.036],[179,-0.044],[181,-0.020],[182,-0.012],[183,-0.030],[185,-0.014],[186,0.010],[187,0.024],[188,0.020],[191,0.050],[193,0.040],[195,0.030],[196,0.020],[197,0.012],[198,0.006],[200,-0.004],[201,-0.012],[202,-0.018],[204,-0.030],[205,-0.024],[207,-0.018],[208,-0.010],[209,-0.006],[210,-0.012],[212,0.004],[213,-0.008],[214,-0.014],[216,-0.012],[217,-0.006],[218,0.004],[219,-0.004],[221,-0.010],[222,-0.002],[223,-0.012],[224,-0.020],[226,-0.016],[227,-0.010],[228,-0.018],[229,-0.008],[230,0.018],[232,0.028],[233,0.014],[234,0.010],[236,0.002],[237,-0.006],[239,-0.010],[240,-0.016],[241,-0.020],[243,-0.030],[244,-0.020],[245,-0.012],[247,0.004],[248,-0.006],[250,-0.020],[251,-0.010],[252,0.030],[253,0.050],[255,0.036],[257,0.028],[258,0.020],[259,0.024],[261,0.008],[262,0],[264,-0.010],[265,-0.014],[266,0.006],[267,0.016],[269,0.004],[270,-0.004],[271,-0.008],[272,-0.012],[274,-0.020],[275,-0.014],[277,-0.018],[278,-0.024],[279,-0.020],[280,-0.030],[281,-0.026],[283,-0.034],[284,-0.020],[285,-0.012],[287,-0.006],[288,-0.016],[290,-0.020],[291,-0.024],[292,-0.016],[293,-0.006],[294,0.004],[296,0.030],[297,0.044],[299,0.040],[301,0.026],[302,0.020],[303,0.010],[305,-0.006],[306,-0.010],[307,-0.014],[308,-0.020],[310,-0.030],[312,-0.040],[314,-0.048],[316,-0.036],[317,0.018],[319,0.030],[320,0.024],[321,0.020],[324,0.016],[325,0.010],[327,0.008],[328,0.014],[329,0.006],[330,0.018],[332,0.004],[333,0],[334,-0.008],[336,-0.006],[337,0.004],[339,-0.004],[340,-0.010],[341,-0.002],[343,0.004],[344,-0.008],[345,0.002],[347,-0.006],[348,0.006],[350,-0.004],[351,0.008],[352,-0.006],[353,0.004],[355,-0.010],[356,0.002],[357,-0.008],[358,0.010],[360,0.004],[361,0.014],[362,0.018],[364,0.010],[365,0.004],[366,-0.006],[367,0.012],
[364,0.016],[366,0],[369,-0.008],[371,0.004],[375,-0.004],[377,-0.016],[379,-0.008],[383,0.012],[385,0.020],[389,0.008],[391,0.012],[395,0.008],[398,-0.028],[400,-0.028],[402,-0.046],[406,-0.055],[408,-0.069],[410,0.020],[413,0.026],[415,0.024],[419,-0.016],[422,0.012],[426,0.004],[431,-0.028],[433,0.012],[435,0.024],[439,0.012],[443,0.012],[445,0],[450,-0.024],[453,0.018],[457,-0.008],[459,0],[463,-0.004],[467,-0.012],[470,-0.022],[474,-0.020],[477,0],[481,0.050],[482,0.044],[484,0.012],[487,-0.012],[490,-0.004],[494,-0.016],[498,-0.004],[501,-0.010],[504,-0.032],[507,0.063],[511,0.081],[513,0.020],[517,0.012],[519,-0.004],[521,-0.012],[524,-0.016],[527,0.004],[531,0.016],[535,0],[538,-0.004],[542,0],[545,0.008],[550,-0.004],[554,0.004],[557,-0.004],[562,0],[566,0.004],[569,-0.004],[573,-0.004],[576,-0.012],[580,-0.016],[583,-0.008],[587,0.004],[591,0.073],[592,0.059],[594,0.020],[597,0.012],[600,0.004],[604,-0.012],[607,-0.020],[611,-0.024],[613,0.020],[616,-0.024],[619,-0.028],[623,-0.004],[626,0.063],[628,0.044],[631,0.040],[634,0.004],[636,-0.028],[640,-0.036],[642,-0.048],[644,-0.051],[647,0.008],[649,0.115],[650,0.075],[652,0.055],[653,0.042],[655,-0.004],[659,-0.051],[661,-0.010],[663,0.008],[665,-0.024],[667,0.091],[669,-0.034],[672,-0.012],[675,-0.044],[678,0.087],[679,0.059],[683,0.036],[686,-0.016],[689,-0.028],[692,0.051],[696,0.004],[699,-0.012],[704,0.038],[707,-0.061],[709,-0.028],[711,0.004],[714,0.044],[717,0.012],[720,0.040],[722,-0.004],[726,-0.012],[729,-0.020],[731,-0.012],
[370,0.006],[372,-0.002],[373,0.008],[374,-0.006],[376,0.002],[378,-0.010],[380,0.004],[381,-0.004],[382,0.006],[384,0.014],[386,0.010],[387,0.002],[388,0.006],[390,-0.002],[392,0.004],[393,-0.006],[394,0.002],[396,-0.012],[397,-0.016],[399,-0.036],[401,-0.034],[403,-0.012],[404,0.018],[405,0.010],[407,0.022],[409,0.030],[411,0.016],[412,0.010],[414,0.008],[416,0.004],[417,-0.006],[418,0.002],[420,0.010],[421,0.004],[423,0],[424,0.008],[425,-0.006],[427,0.002],[428,-0.010],[429,-0.004],[430,-0.012],[432,0.006],[434,0.016],[436,0.004],[437,0.010],[438,-0.004],[440,0.016],[441,0.006],[442,0.004],[444,-0.006],[446,0.006],[447,-0.008],[448,-0.004],[449,-0.014],[451,-0.006],[452,0.008],[454,-0.004],[455,0.006],[456,-0.010],[458,0.004],[460,-0.008],[461,0.002],[462,-0.012],[464,-0.006],[465,-0.016],[466,-0.008],[468,-0.018],[469,-0.010],[471,-0.026],[472,-0.016],[473,-0.030],[475,-0.024],[476,-0.012],[478,0.016],[479,0.024],[480,0.030],[483,0.028],[485,0.020],[486,0.008],[488,0.006],[489,-0.004],[491,-0.010],[492,-0.020],[493,-0.014],[495,-0.028],[496,-0.020],[497,-0.008],[499,0.006],[500,-0.010],[502,-0.016],[503,-0.024],[505,0.010],[506,0.040],[508,0.036],[509,0.040],[510,0.030],[512,0.024],[514,0.008],[515,0.004],[516,-0.004],[518,-0.008],[520,-0.016],[522,-0.026],[523,-0.020],[525,-0.028],[526,-0.016],[528,-0.010],[529,0.010],[530,0.006],[532,0.004],[533,-0.002],[534,0.008],[536,0.004],[537,-0.006],[539,0.004],[540,-0.002],[541,0.006],[543,-0.004],[544,0.002],[546,-0.006],[547,0.010],[548,0.012],[549,0.002],[551,0.006],[552,-0.006],[553,0],[555,-0.008],[556,0.004],[558,-0.010],[559,0.002],[560,0.008],[561,0.012],[563,0.002],[564,-0.004],[565,0.006],[567,0],[568,0.008],[570,-0.006],[571,0.004],[572,0.010],[574,-0.002],[575,-0.010],[577,-0.018],[578,-0.014],[579,-0.020],[581,-0.022],[582,-0.014],[584,-0.018],[585,-0.010],[586,-0.020],[588,0.012],[589,0.030],[590,0.050],[593,0.036],[595,0.016],[596,0.020],[598,0.006],[599,0.010],[601,-0.002],[602,0.002],[603,-0.008],[605,-0.004],[606,-0.014],[608,-0.010],[609,-0.018],[610,-0.012],[612,-0.020],[614,-0.016],[615,-0.030],[617,-0.020],[618,-0.014],[620,-0.024],[621,-0.018],[622,-0.030],[624,-0.020],[625,0.010],[627,0.040],[629,0.030],[630,0.020],[632,0.030],[633,0.040],[635,0.010],[637,-0.010],[638,-0.020],[639,-0.030],[641,-0.040],[643,-0.044],[645,-0.036],[646,-0.020],[648,0.030],[651,0.036],[654,0.024],[656,0.010],[657,-0.006],[658,-0.014],[660,-0.030],[662,0.004],[664,-0.004],[666,0.014],[668,-0.010],[670,-0.024],[671,-0.004],[673,-0.020],[674,-0.030],[676,-0.024],[677,0.010],[680,0.030],[681,0.020],[682,0.024],[684,0.010],[685,0],[687,-0.020],[688,-0.040],[690,-0.030],[691,-0.010],[693,0.024],[694,0.016],[695,0.010],[697,0.020],[698,-0.006],[700,0.010],[701,0],[702,0.020],[703,0.006],[705,0.016],[706,-0.024],[708,-0.040],[710,0.020],[712,0.010],[713,0.030],[716,0.020],[718,0.006],[719,0.024],[721,0.010],[723,0.006],[724,-0.010],[725,0],[727,-0.016],[728,0.004],[730,-0.008]];

const smosA=[[36,0.210],[17,-0.042],[19,0.020],[23,-0.121],[24,0.022],[26,0.026],[29,0.014],[33,-0.113],[34,0.032],[37,0.038],[41,-0.109],[42,-0.026],[45,-0.125],[50,-0.026],[52,0.065],[55,-0.014],[62,0.020],[63,-0.006],[65,0.028],[69,-0.085],[71,0.034],[77,-0.095],[79,-0.018],[83,0.038],[87,-0.063],[93,0.026],[94,-0.202],[100,-0.188],[98,-0.030],[101,-0.038],[104,-0.018],[107,-0.059],[122,-0.065],[129,-0.103],[133,-0.030],[136,0.119],[134,0.061],[141,-0.044],[142,0.053],[144,0.089],[146,0.053],[151,-0.057],[153,-0.097],[156,-0.034],[160,-0.034],[163,-0.042],[167,0.216],[169,0.118],[168,0.053],[172,-0.038],[175,-0.065],[176,-0.085],[178,-0.091],[181,0.061],[182,-0.038],[184,-0.046],[189,-0.053],[190,0.168],[194,0.073],[196,0.026],[201,-0.057],[203,-0.077],[207,-0.046],[208,0.055],[213,-0.014],[214,-0.006],[218,0.059],[221,0.030],[225,-0.050],[228,0.053],[231,0.117],[233,0.026],[235,-0.006],[239,0.046],[242,0.010],[245,-0.040],[248,-0.018],[250,-0.050],[254,0.053],[257,0.087],[260,-0.014],[262,0.042],[266,0.026],[270,0.010],[274,-0.014],[278,0.032],[282,-0.046],[283,-0.065],[285,0.083],[288,-0.006],[289,-0.026],[293,0.026],[296,0.067],[298,0.176],[300,0.042],[304,-0.030],[307,-0.038],[310,-0.046],[312,-0.053],[315,-0.065],[317,0.034],[321,0.099],[323,0.038],[327,0.059],[328,0.030],[330,0.034],[334,0.048],[337,-0.038],[340,0.026],[342,-0.024],[344,0.018],[348,-0.048],[350,-0.014],[352,0.051],[355,0.020],[357,-0.002],[367,-0.006],[370,0.065],[372,0.117],
[372,0.115],[371,0.067],[373,0.026],[376,0.040],[370,-0.006],[378,-0.046],[383,0.040],[384,-0.061],[386,-0.030],[375,-0.107],[379,-0.137],[391,0.016],[393,0.067],[396,-0.030],[397,0.042],[401,-0.063],[400,-0.103],[403,0.051],[407,-0.125],[406,0.022],[409,-0.022],[411,0.101],[413,0.057],[414,0.034],[415,-0.048],[418,0.034],[420,-0.050],[421,0.042],[424,0.048],[427,-0.018],[430,0.026],[432,0.010],[434,0.065],[438,-0.026],[442,0.050],[445,0.010],[447,0.038],[451,-0.113],[452,-0.002],[456,-0.053],[459,0.006],[462,0.024],[465,0.034],[468,-0.048],[469,-0.097],[474,-0.038],[476,-0.069],[478,-0.014],[481,0.115],[483,0.125],[484,0.053],[488,0.093],[490,0.010],[493,-0.046],[497,-0.103],[498,0.050],[502,-0.061],[505,-0.073],[506,0.198],[507,0.089],[511,0.042],[514,-0.002],[517,-0.018],[521,0.053],[520,-0.061],[523,-0.111],[526,-0.038],[528,-0.101],[529,0.111],[531,0.024],[533,-0.002],[537,0.026],[541,-0.038],[542,-0.069],[544,-0.038],[546,0.073],[551,0.032],[554,0.002],[557,-0.038],[559,-0.069],[560,0.057],[562,0.038],[564,-0.014],[569,-0.002],[573,0.057],[576,-0.050],[578,0.026],[581,-0.061],[585,-0.034],[588,0.002],[591,0.149],[592,0.057],[594,0.061],[597,0.059],[600,0.010],[605,-0.051],[607,0.014],[611,-0.046],[613,0.002],[618,-0.069],[620,-0.057],[624,0.038],[627,0.143],[629,0.057],[632,0.099],[634,-0.006],[636,-0.026],[638,-0.051],[642,-0.081],[646,-0.057],[647,0.196],[648,0.095],[650,0.105],[655,0.071],[657,0.038],[659,-0.061],[661,-0.073],[663,0.002],[666,0.030],[668,0.038],[669,-0.014],[672,-0.166],[674,-0.050],[676,-0.051],[678,0.174],[679,0.073],[683,0.042],[686,-0.038],[690,-0.141],[691,-0.050],[692,0.042],[694,-0.050],[696,0.085],[698,0],[700,0.010],[704,0.087],[706,-0.075],[708,-0.150],[710,-0.061],[714,0.085],[715,0.026],[718,0.016],[721,0.061],[723,-0.034],[727,0.034],[730,-0.026],[731,-0.081]];
const smosA2=[[20,-0.010],[31,0.010],[47,-0.010],[58,0.010],[73,-0.020],[90,0.010],[110,-0.030],[116,-0.010],[126,-0.040],[139,0.030],[149,-0.030],[158,-0.020],[165,0.010],[180,-0.030],[186,0.020],[198,-0.020],[205,-0.030],[211,0.010],[216,-0.030],[223,-0.010],[230,-0.020],[237,0.010],[244,-0.020],[252,-0.010],[259,0.020],[264,-0.020],[272,-0.020],[276,0],[280,-0.030],[291,-0.010],[302,0.010],[306,-0.020],[313,-0.040],[319,0.020],[325,0.010],[332,0],[339,-0.020],[346,0],[354,-0.010],[362,0.010],[380,-0.020],[389,0.010],[395,-0.010],[404,-0.020],[417,0.010],[425,-0.010],[436,0.020],[440,0],[449,-0.020],[454,0.010],[461,-0.010],[466,0],[472,-0.020],[480,0.030],[486,0.010],[495,-0.020],[500,-0.030],[510,0.020],[516,-0.010],[524,-0.030],[535,-0.010],[539,0],[548,-0.020],[553,0.010],[567,-0.020],[571,0.010],[580,-0.020],[583,0],[590,0.040],[596,0.020],[603,-0.020],[609,-0.010],[616,-0.030],[622,-0.020],[631,0.020],[640,-0.030],[652,0.020],[664,-0.010],[671,-0.020],[681,0.020],[688,-0.020],[697,0.010],[702,-0.010],[712,0],[717,-0.020],[725,0.010],[729,-0.010]];

const smosD=[[17,-0.075],[20,-0.010],[21,-0.018],[23,-0.067],[24,-0.030],[26,-0.050],[29,-0.038],[32,-0.077],[34,-0.030],[38,-0.006],[40,-0.061],[42,-0.018],[45,-0.091],[47,0.022],[50,-0.040],[52,0.030],[55,-0.006],[58,-0.063],[60,0.006],[64,-0.034],[67,0.042],[70,0.018],[74,-0.002],[77,0.038],[79,-0.042],[84,0.038],[90,0.034],[94,0.042],[95,-0.263],[96,-0.010],[98,-0.030],[100,-0.083],[101,-0.053],[103,-0.073],[104,0.002],[108,-0.018],[111,0.002],[120,0.002],[122,-0.030],[125,-0.038],[128,-0.077],[131,-0.111],[132,-0.051],[135,0.042],[137,0.073],[139,0.069],[141,0.081],[143,0.077],[144,0.034],[146,-0.002],[151,-0.069],[152,-0.073],[156,-0.053],[157,-0.059],[161,0],[165,-0.006],[168,0.170],[169,0.141],[170,0.065],[171,-0.006],[174,-0.042],[176,-0.069],[177,-0.069],[180,-0.065],[182,-0.061],[184,-0.038],[186,0.087],[188,0.069],[191,0.119],[192,0.057],[194,0.002],[196,-0.006],[199,0.038],[202,-0.038],[204,-0.081],[206,-0.057],[208,0.034],[211,0.010],[213,0.002],[215,-0.026],[218,-0.038],[221,-0.010],[225,-0.042],[229,-0.026],[231,0.093],[233,0.010],[237,-0.018],[239,0.002],[242,-0.046],[245,-0.034],[248,0.022],[251,-0.053],[254,0.063],[257,0.089],[258,0.026],[261,-0.030],[264,-0.038],[267,-0.046],[269,0.087],[273,0.002],[275,-0.006],[279,0.053],[281,-0.038],[285,-0.050],[287,-0.053],[290,-0.026],[294,0.051],[295,-0.042],[298,0.079],[299,0.111],[301,0.002],[306,0.022],[309,-0.026],[311,-0.069],[313,-0.065],[316,-0.093],[319,-0.014],[322,0.073],[325,0.030],[329,0.044],[331,-0.042],[334,0.010],[337,-0.050],[341,0.002],[343,-0.135],[344,0.050],[347,-0.038],[349,-0.046],[352,0.073],[356,0.026],[359,-0.014],[363,0.053],[370,0.109],[372,0.085],
[371,0.109],[370,0.087],[373,0.067],[375,0.026],[376,-0.014],[378,-0.097],[379,-0.121],[381,-0.057],[383,-0.038],[385,-0.105],[387,-0.018],[388,0.026],[390,-0.117],[393,0.053],[394,0.002],[396,0.018],[397,-0.034],[398,-0.087],[399,-0.113],[401,-0.087],[403,-0.006],[407,-0.113],[408,-0.024],[410,-0.166],[412,0.081],[414,0.026],[416,0.038],[419,-0.034],[421,-0.034],[425,0.059],[426,-0.002],[428,-0.038],[431,-0.026],[433,-0.057],[435,0.034],[438,0.051],[440,-0.018],[443,0.071],[445,0.002],[447,0.042],[451,-0.030],[454,0.051],[457,0.002],[461,-0.034],[464,-0.014],[468,-0.030],[471,0.002],[474,0.032],[476,-0.050],[478,-0.061],[481,0.107],[483,0.067],[484,0.065],[487,-0.069],[489,0.085],[492,-0.053],[495,-0.006],[496,-0.081],[498,0.065],[500,-0.030],[502,-0.006],[505,-0.129],[507,0.150],[508,-0.034],[510,0.050],[512,0.067],[515,-0.030],[519,-0.046],[521,-0.053],[525,-0.053],[527,-0.057],[529,0.057],[530,-0.030],[532,0.034],[535,0.018],[538,-0.018],[541,0.002],[545,0.042],[547,0.061],[550,-0.002],[552,-0.014],[555,-0.022],[561,0.085],[563,-0.010],[567,-0.075],[569,-0.030],[573,0.053],[575,-0.038],[580,-0.018],[583,-0.006],[587,-0.059],[591,0.081],[592,0.135],[594,0.034],[597,0.057],[600,0.067],[601,-0.014],[604,0.002],[607,-0.034],[611,-0.038],[614,-0.046],[617,-0.053],[619,-0.030],[623,-0.046],[626,0.061],[628,0.107],[630,0.081],[632,0.067],[634,-0.046],[636,-0.014],[640,-0.085],[642,-0.081],[644,-0.038],[648,0.105],[650,0.133],[651,0.117],[653,0.042],[655,0.061],[657,0.002],[661,-0.034],[665,-0.081],[668,0.046],[671,-0.038],[673,-0.026],[675,-0.065],[679,0.152],[680,0.105],[681,0.050],[684,-0.006],[687,-0.026],[691,-0.087],[692,0.091],[696,0.055],[698,0.034],[702,0.014],[705,0.065],[706,-0.046],[708,-0.135],[710,-0.034],[712,-0.073],[715,0.051],[717,0.057],[720,0.073],[722,-0.014],[724,-0.051],[727,-0.069],[730,-0.010]];
const smosD2=[[18,-0.020],[28,0],[36,-0.020],[44,0],[49,-0.030],[56,-0.020],[62,0.010],[68,-0.020],[72,0.010],[81,-0.020],[87,0],[92,-0.010],[106,-0.040],[114,-0.020],[118,0.010],[127,-0.050],[134,0.010],[138,0.030],[148,-0.030],[154,-0.040],[159,-0.020],[163,-0.030],[173,-0.020],[179,-0.040],[183,-0.050],[189,0.030],[197,0],[201,-0.020],[205,-0.040],[210,0],[217,-0.030],[220,-0.010],[224,-0.020],[227,-0.030],[235,-0.010],[241,-0.020],[247,-0.010],[250,-0.030],[256,0.030],[263,-0.020],[266,-0.030],[271,0],[277,-0.010],[283,-0.030],[289,-0.020],[292,0.010],[297,0.030],[304,-0.010],[308,-0.020],[315,-0.050],[318,0.010],[324,0.020],[328,0.010],[335,-0.010],[339,-0.020],[346,-0.010],[353,0],[358,-0.020],[362,0.010],[377,-0.030],[384,-0.020],[391,0],[400,-0.040],[405,-0.020],[413,0.010],[418,-0.010],[423,0],[430,-0.010],[436,-0.020],[442,0.010],[449,-0.010],[455,-0.020],[460,0],[466,-0.020],[470,-0.040],[480,0.020],[486,0.010],[491,-0.030],[494,-0.040],[501,-0.020],[504,-0.020],[511,0.030],[516,-0.010],[523,-0.030],[533,0.010],[537,-0.010],[543,-0.020],[549,0],[557,-0.020],[565,-0.030],[571,-0.010],[578,-0.030],[585,-0.020],[589,0.020],[596,0.020],[603,-0.020],[609,-0.030],[615,-0.020],[621,-0.040],[625,-0.010],[631,0.040],[638,-0.030],[646,-0.040],[652,0.040],[659,-0.020],[663,-0.010],[670,0.010],[677,-0.030],[683,0.020],[689,-0.030],[694,0.010],[700,0],[704,0.020],[709,-0.040],[714,0.010],[719,0.020],[726,-0.030],[729,0]];

const xTickDates=["2013-01-03","2013-03-19","2013-06-01","2013-09-01","2013-12-01","2014-03-01","2014-06-01","2014-09-01","2014-12-01"];
const xTickLabels=["Jan 2013","Mar 2013","Jun 2013","Sep 2013","Dec 2013","Mar 2014","Jun 2014","Sep 2014","Dec 2014"];
const yTicks=[-0.30,-0.15,0.00,0.15,0.30];
const domainDates=["2013-01-03","2015-01-02"];

const panels=[
 {series:[{name:"AMSR_A",data:amsrA.concat(amsrA2),color:"#3cef86"},{name:"AMSR_D",data:amsrD.concat(amsrD2),color:"#ff7a48"}]},
 {series:[{name:"ECV_A",data:ecvA.concat(ecvA2),color:"#767676"},{name:"ECV_P",data:ecvP,color:"#4cc6f4"},{name:"ECV_C",data:ecvC,color:"#ff0000"}]},
 {series:[{name:"SMOS_A",data:smosA.concat(smosA2),color:"#6a5acd"},{name:"SMOS_D",data:smosD.concat(smosD2),color:"#ff69b4"}]}
];

// ---------------- DRAWING ----------------
const svg=d3.select("#c");
const parse=d3.utcParse("%Y-%m-%d");
const base=Date.UTC(2013,0,1);
const dayDate=d=>new Date(base+d*864e5);
const L=319,R=3629,PH=657,tops=[47,834,1622];
const x=d3.scaleUtc().domain(domainDates.map(parse)).range([L,R]);
const defs=svg.append("defs");
const minorDays=d3.utcDay.range(x.domain()[0],d3.utcDay.offset(x.domain()[1],1));

panels.forEach((p,i)=>{
  const T=tops[i];
  const y=d3.scaleLinear().domain([-0.3,0.3]).range([T+PH,T]);
  defs.append("clipPath").attr("id","clip"+i).append("rect").attr("x",L).attr("y",T).attr("width",R-L).attr("height",PH);
  const g=svg.append("g");
  const plot=g.append("g").attr("clip-path",`url(#clip${i})`);
  p.series.forEach(s=>{
    plot.append("g").selectAll("circle").data(s.data).join("circle")
      .attr("cx",d=>x(dayDate(d[0]))).attr("cy",d=>y(d[1])).attr("r",6).attr("fill",s.color);
  });
  plot.append("path").datum(insitu)
    .attr("d",d3.line().x(d=>x(dayDate(d[0]))).y(d=>y(d[1])))
    .attr("fill","none").attr("stroke","#000").attr("stroke-width",4).attr("stroke-linejoin","round");

  const ya=g.append("g").attr("transform",`translate(${L},0)`)
    .call(d3.axisLeft(y).tickValues(yTicks).tickFormat(d3.format(".2f")).tickSize(12).tickPadding(10));
  ya.select(".domain").remove();
  ya.selectAll(".tick line").attr("stroke","#000").attr("stroke-width",3);
  ya.selectAll(".tick text").attr("font-size",62).attr("font-family","DejaVu Sans").attr("fill","#000");

  const xm=g.append("g").attr("transform",`translate(0,${T+PH})`)
    .call(d3.axisBottom(x).tickValues(minorDays).tickFormat("").tickSize(16));
  xm.select(".domain").remove();
  xm.selectAll(".tick line").attr("stroke","#222").attr("stroke-width",2);
  const xa=g.append("g").attr("transform",`translate(0,${T+PH})`)
    .call(d3.axisBottom(x).tickValues(xTickDates.map(parse)).tickFormat((d,k)=>xTickLabels[k]).tickSize(16).tickPadding(14));
  xa.select(".domain").remove();
  xa.selectAll(".tick line").attr("stroke","#222").attr("stroke-width",2);
  xa.selectAll(".tick text").attr("font-size",62).attr("font-family","DejaVu Sans").attr("fill","#000");

  g.append("rect").attr("x",L).attr("y",T).attr("width",R-L).attr("height",PH)
    .attr("fill","none").attr("stroke","#222").attr("stroke-width",3);

  const yl=g.append("text").attr("transform",`translate(77,${T+PH/2}) rotate(-90)`)
    .attr("text-anchor","middle").attr("font-size",64);
  yl.append("tspan").text("Anomalies (");
  yl.append("tspan").attr("font-style","italic").text("m");
  yl.append("tspan").attr("font-size",45).attr("dy",-27).text("3");
  yl.append("tspan").attr("font-size",64).attr("dy",27).text("*");
  yl.append("tspan").attr("font-style","italic").text("m");
  yl.append("tspan").attr("font-size",45).attr("dy",-27).text("\u22123");
  yl.append("tspan").attr("font-size",64).attr("dy",27).text(")");

  const entries=[{name:"in situ",line:true}].concat(p.series);
  const lg=g.append("g");
  const box=lg.append("rect");
  const texts=[];
  entries.forEach((e,k)=>{
    const cy=T+71+k*81.5;
    if(e.line) lg.append("line").attr("x1",367).attr("x2",476).attr("y1",cy).attr("y2",cy).attr("stroke","#000").attr("stroke-width",4);
    else lg.append("circle").attr("cx",421).attr("cy",cy).attr("r",6).attr("fill",e.color);
    texts.push(lg.append("text").attr("x",522).attr("y",cy+18).attr("font-size",52).text(e.name));
  });
  const wmax=d3.max(texts,t=>t.node().getComputedTextLength());
  box.attr("x",345).attr("y",T+27).attr("width",522+wmax+28-345).attr("height",entries.length*81.5+30)
    .attr("rx",10).attr("fill","#fff").attr("fill-opacity",0.8).attr("stroke","#d4d4d4").attr("stroke-width",2.5);
});
</script>
</body></html>
